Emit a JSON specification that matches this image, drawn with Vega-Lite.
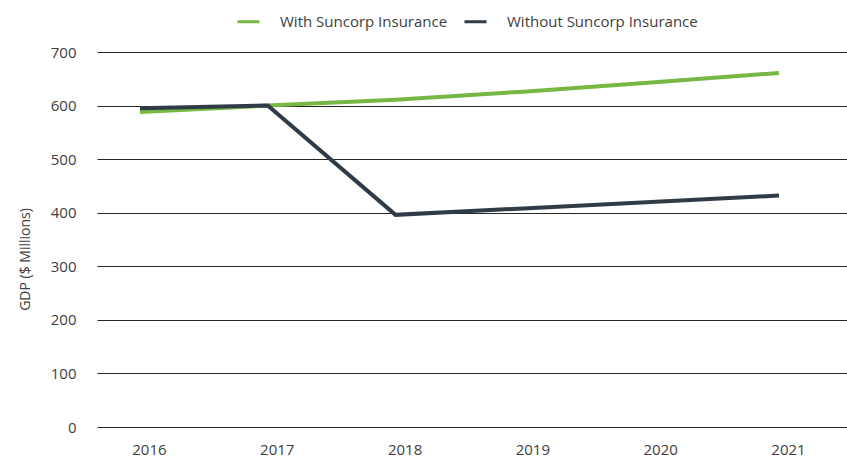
{
  "$schema": "https://vega.github.io/schema/vega-lite/v6.json",
  "autosize": "none",
  "width": 750,
  "height": 375,
  "padding": {"left": 97, "top": 52, "right": 0, "bottom": 31},
  "background": "white",
  "config": {
    "view": {"stroke": null},
    "font": "Open Sans",
    "axis": {"labelFont": "Open Sans", "titleFont": "Open Sans", "labelColor": "#404040", "titleColor": "#404040"}
  },
  "data": {
    "values": [
      {"year": "2016", "series": "With Suncorp Insurance", "gdp": 588},
      {"year": "2017", "series": "With Suncorp Insurance", "gdp": 600},
      {"year": "2018", "series": "With Suncorp Insurance", "gdp": 611},
      {"year": "2019", "series": "With Suncorp Insurance", "gdp": 626},
      {"year": "2020", "series": "With Suncorp Insurance", "gdp": 643},
      {"year": "2021", "series": "With Suncorp Insurance", "gdp": 661},
      {"year": "2016", "series": "Without Suncorp Insurance", "gdp": 595},
      {"year": "2017", "series": "Without Suncorp Insurance", "gdp": 600},
      {"year": "2018", "series": "Without Suncorp Insurance", "gdp": 396},
      {"year": "2019", "series": "Without Suncorp Insurance", "gdp": 408},
      {"year": "2020", "series": "Without Suncorp Insurance", "gdp": 420},
      {"year": "2021", "series": "Without Suncorp Insurance", "gdp": 432}
    ]
  },
  "mark": {"type": "line", "strokeWidth": 4, "strokeCap": "butt", "strokeJoin": "miter"},
  "encoding": {
    "x": {
      "field": "year",
      "type": "ordinal",
      "scale": {"type": "point", "padding": 0.434, "align": 0.387},
      "axis": {
        "title": null,
        "domain": false,
        "ticks": false,
        "grid": false,
        "labelAngle": 0,
        "labelFontSize": 15,
        "labelPadding": 15,
        "labelOffset": 9
      }
    },
    "y": {
      "field": "gdp",
      "type": "quantitative",
      "scale": {"domain": [0, 700], "nice": false, "zero": true},
      "axis": {
        "title": "GDP ($ Millions)",
        "titleFontSize": 14,
        "titleFontWeight": "normal",
        "titlePadding": 18,
        "titleY": 207,
        "values": [0, 100, 200, 300, 400, 500, 600, 700],
        "domain": false,
        "ticks": false,
        "grid": true,
        "gridColor": "#262626",
        "gridOpacity": 1,
        "gridWidth": 1,
        "labelFontSize": 15,
        "labelPadding": 21
      }
    },
    "color": {
      "field": "series",
      "type": "nominal",
      "scale": {
        "domain": ["With Suncorp Insurance", "Without Suncorp Insurance"],
        "range": ["#76b843", "#2f3b46"]
      },
      "legend": {
        "title": null,
        "orient": "none",
        "direction": "horizontal",
        "legendX": 139,
        "legendY": -43,
        "symbolType": "stroke",
        "symbolSize": 484,
        "symbolStrokeWidth": 3,
        "labelFontSize": 15,
        "labelLimit": 400,
        "labelColor": "#404040",
        "labelOffset": 19,
        "columnPadding": 10
      }
    }
  }
}
